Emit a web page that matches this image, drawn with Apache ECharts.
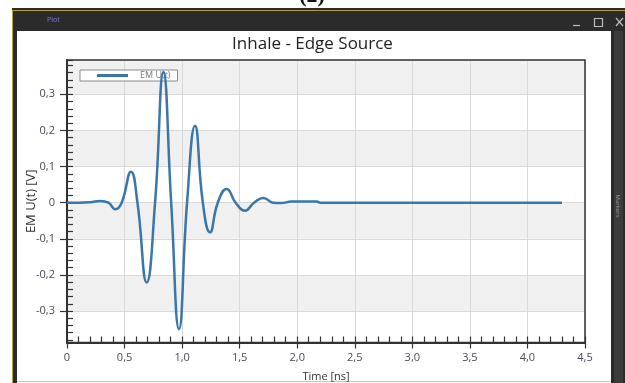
<!DOCTYPE html>
<html><head><meta charset="utf-8">
<script src="https://cdn.jsdelivr.net/npm/echarts@6/dist/echarts.min.js"></script>
<style>html,body{margin:0;padding:0;background:#fff}#c{width:625px;height:383px}</style>
</head><body><div id="c"></div>
<script>
// ---- data ----
const timeNs = [0, 0.1, 0.2, 0.29, 0.36, 0.42, 0.475, 0.556, 0.612, 0.692, 0.765, 0.837, 0.905, 0.973, 1.043, 1.112, 1.18, 1.242, 1.31, 1.387, 1.465, 1.546, 1.625, 1.706, 1.79, 1.86, 1.95, 2.17, 2.2, 4.3];
const emU    = [0, 0, 0.001, 0.005, 0, -0.018, 0, 0.086, 0, -0.221, 0, 0.362, 0, -0.350, 0, 0.213, 0, -0.082, 0, 0.038, 0, -0.022, 0, 0.013, 0, -0.001, 0.003, 0.003, 0, 0];
const seriesName = 'EM U(t)';
const chartTitle = 'Inhale - Edge Source';
const xName = 'Time [ns]';
const yName = 'EM U(t) [V]';
const xRange = [0, 4.5];
const yRange = [-0.387, 0.395];
const xMajorStep = 0.5, xMinorStep = 0.1;
const yMajorStep = 0.1, yMinorStep = 0.02;

const fmt = v => Math.abs(v) < 1e-9 ? '0' : v.toFixed(1).replace('.', ',');
const font = "'Open Sans', 'Noto Sans', sans-serif";
const axisDark = '#333';
const gridCol = '#d9d9d9';
const labelCol = '#4a4a58';

const chart = echarts.init(document.getElementById('c'), null, {renderer: 'canvas'});

const frame = [
  {type:'text', x:312, y:-4, style:{text:'(2)', font:"bold 22px 'Liberation Serif', serif", fill:'#111', textAlign:'center', textVerticalAlign:'middle'}},
  {type:'rect', shape:{x:12, y:8, width:613, height:23}, style:{fill:'#2b2b2b'}},
  {type:'rect', shape:{x:12, y:31, width:5, height:352}, style:{fill:'#2b2b2b'}},
  {type:'rect', shape:{x:611, y:31, width:14, height:352}, style:{fill:'#2a2a2a'}},
  {type:'rect', shape:{x:614, y:31, width:9, height:352}, style:{fill:'#3b3b3b'}},
  {type:'line', shape:{x1:12, y1:10.5, x2:625, y2:10.5}, style:{stroke:'#b5a136', lineWidth:1}},
  {type:'line', shape:{x1:12.5, y1:10, x2:12.5, y2:383}, style:{stroke:'#b5a136', lineWidth:1}},
  {type:'line', shape:{x1:17, y1:381.5, x2:611, y2:381.5}, style:{stroke:'#c4c4c4', lineWidth:1}},
  {type:'text', x:47, y:20, style:{text:'Plot', font:"7px 'Open Sans', sans-serif", fill:'#6f7fd8', textVerticalAlign:'middle'}},
  {type:'line', shape:{x1:573, y1:25.5, x2:580, y2:25.5}, style:{stroke:'#bdbdbd', lineWidth:1.2}},
  {type:'rect', shape:{x:594.5, y:18.5, width:8, height:8}, style:{fill:'none', stroke:'#bdbdbd', lineWidth:1.2}},
  {type:'line', shape:{x1:616, y1:18, x2:623, y2:26}, style:{stroke:'#bdbdbd', lineWidth:1.2}},
  {type:'line', shape:{x1:616, y1:26, x2:623, y2:18}, style:{stroke:'#bdbdbd', lineWidth:1.2}},
  {type:'text', x:618, y:206, rotation:-Math.PI/2, style:{text:'Markers', font:"6px 'Open Sans', sans-serif", fill:'#9a9a9a', textAlign:'center', textVerticalAlign:'middle'}}
];

const option = {
  backgroundColor: '#ffffff',
  animation: false,
  title: {
    text: chartTitle, left: 'center', top: 36, padding: 0,
    textStyle: {fontFamily: font, fontSize: 17, fontWeight: 'normal', color: '#222'}
  },
  legend: {
    left: 80, top: 70, z: 1,
    data: [seriesName],
    icon: 'rect', itemWidth: 31, itemHeight: 3,
    padding: [1, 7, 1, 17],
    borderColor: '#8a8a8a', borderWidth: 1, backgroundColor: '#fff', borderRadius: 0,
    textStyle: {fontFamily: font, fontSize: 9, color: '#777', padding: [0, 0, 0, 7]}
  },
  graphic: {elements: frame},
  grid: {
    left: 67, right: 40, top: 60, bottom: 40.5, z: 1,
    outerBoundsMode: 'none', containLabel: false,
    show: true, borderColor: axisDark, borderWidth: 1.5, backgroundColor: 'transparent'
  },
  xAxis: [
    {
      type: 'value', min: xRange[0], max: xRange[1], interval: xMajorStep, position: 'bottom',
      name: xName, nameLocation: 'middle', nameGap: 29, nameMoveOverlap: false,
      nameTextStyle: {fontFamily: font, fontSize: 11, color: '#333'},
      axisLine: {show: true, onZero: false, lineStyle: {color: axisDark, width: 2}},
      axisTick: {show: true, inside: false, length: 6, lineStyle: {color: axisDark, width: 1.2}},
      axisLabel: {formatter: fmt, margin: 10, fontFamily: font, fontSize: 11, color: labelCol},
      splitLine: {show: true, lineStyle: {color: gridCol, width: 1}},
      splitArea: {show: false}
    },
    {
      type: 'value', min: xRange[0], max: xRange[1], interval: xMinorStep, position: 'bottom',
      axisLine: {show: false, onZero: false},
      axisTick: {show: true, inside: true, length: 6, lineStyle: {color: axisDark, width: 1.2}},
      axisLabel: {show: false},
      splitLine: {show: false}, splitArea: {show: false}
    }
  ],
  yAxis: [
    {
      type: 'value', min: yRange[0], max: yRange[1], minInterval: yMajorStep, maxInterval: yMajorStep, position: 'left',
      name: yName, nameLocation: 'middle', nameGap: 29, nameMoveOverlap: false,
      nameTextStyle: {fontFamily: font, fontSize: 13, color: '#333'},
      axisLine: {show: true, onZero: false, lineStyle: {color: axisDark, width: 2}},
      axisTick: {show: true, inside: false, length: 7, lineStyle: {color: axisDark, width: 1.2}},
      axisLabel: {formatter: fmt, margin: 12, fontFamily: font, fontSize: 11, color: labelCol, showMinLabel: false, showMaxLabel: false},
      splitLine: {show: true, lineStyle: {color: gridCol, width: 1}},
      splitArea: {show: true, areaStyle: {color: ['#ffffff', '#f0f0f0']}}
    },
    {
      type: 'value', min: yRange[0], max: yRange[1], minInterval: yMinorStep, maxInterval: yMinorStep, position: 'left',
      axisLine: {show: false, onZero: false},
      axisTick: {show: true, inside: true, length: 6, lineStyle: {color: axisDark, width: 1.2}},
      axisLabel: {show: false},
      splitLine: {show: false}, splitArea: {show: false}
    }
  ],
  series: [{
    name: seriesName, type: 'line', xAxisIndex: 0, yAxisIndex: 0, z: 3,
    data: timeNs.map((t, i) => [t, emU[i]]),
    smooth: 0.5, showSymbol: false, symbol: 'none',
    lineStyle: {color: '#3a76a8', width: 2.5},
    itemStyle: {color: '#3a76a8'}
  }]
};
chart.setOption(option);
</script>
</body></html>
